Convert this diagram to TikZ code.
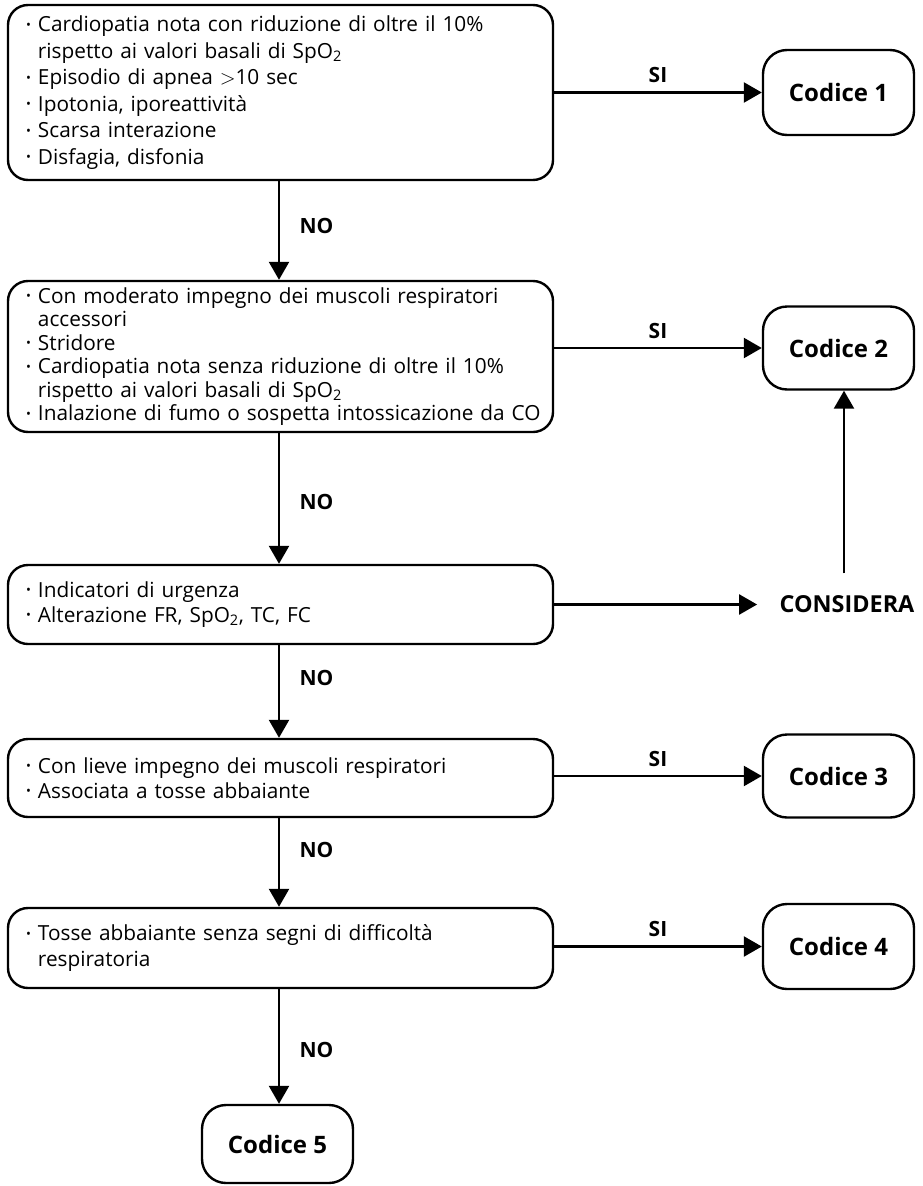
\documentclass[tikz,border=0pt]{standalone}
\usepackage{fontspec}
\setmainfont{Open Sans}
\usetikzlibrary{arrows.meta}
% list lines: a bullet line and a continuation line, never wrapped
\newcommand\bul{\makebox[12pt][l]{\raisebox{0.22ex}{\fontsize{13}{13}\selectfont\textbullet}}}
\newcommand\li[1]{\mbox{\bul#1}}
\newcommand\lc[1]{\mbox{\hspace*{12pt}#1}}
\begin{document}
\begin{tikzpicture}[x=1pt,y=-1pt,
  line width=2.4pt,
  arr/.style={-{Triangle[length=18pt,width=20pt]}},
  qbox/.style={draw, rounded corners=20pt, minimum width=545pt, inner xsep=18pt,
    inner ysep=0pt, text width=509pt, align=left,
    font=\fontsize{20.8}{25}\selectfont},
  cbox/.style={draw, rounded corners=24pt, minimum width=151pt,
    font=\bfseries\fontsize{24}{26}\selectfont},
  lbl/.style={font=\bfseries\fontsize{21}{24}\selectfont}]
\useasboundingbox (0,0) rectangle (922,1186);

% question boxes
\node[qbox, minimum height=175pt, font=\fontsize{20.8}{26.5}\selectfont] (b1) at (280.5,92.5) {%
  \li{Cardiopatia nota con riduzione di oltre il 10\%}\\
  \lc{rispetto ai valori basali di SpO\textsubscript{2}}\\
  \li{Episodio di apnea $>$10 sec}\\
  \li{Ipotonia, iporeattività}\\
  \li{Scarsa interazione}\\
  \li{Disfagia, disfonia}};
\node[qbox, minimum height=151pt, font=\fontsize{20.8}{23.5}\selectfont] (b2) at (280.5,356.5) {%
  \li{Con moderato impegno dei muscoli respiratori}\\
  \lc{accessori}\\
  \li{Stridore}\\
  \li{Cardiopatia nota senza riduzione di oltre il 10\%}\\
  \lc{rispetto ai valori basali di SpO\textsubscript{2}}\\
  \li{Inalazione di fumo o sospetta intossicazione da CO}};
\node[qbox, minimum height=79pt] (b3) at (280.5,604.5) {%
  \li{Indicatori di urgenza}\\
  \li{Alterazione FR, SpO\textsubscript{2}, TC, FC}};
\node[qbox, minimum height=78pt] (b4) at (280.5,778) {%
  \li{Con lieve impegno dei muscoli respiratori}\\
  \li{Associata a tosse abbaiante}};
\node[qbox, minimum height=80pt, font=\fontsize{20.8}{26}\selectfont] (b5) at (280.5,948) {%
  \li{Tosse abbaiante senza segni di difficoltà}\\
  \lc{respiratoria}};

% outcome boxes
\node[cbox, minimum height=85pt] (c1) at (838.5,92.5) {Codice 1};
\node[cbox, minimum height=83pt] (c2) at (838.5,348) {Codice 2};
\node[cbox, minimum height=83pt] (c3) at (838.5,776) {Codice 3};
\node[cbox, minimum height=85pt] (c4) at (838.5,946.5) {Codice 4};
\node[cbox, minimum height=78pt] (c5) at (277.5,1144) {Codice 5};
\node[font=\bfseries\fontsize{23.4}{26}\selectfont] (cons) at (847,604.5) {CONSIDERA};

% "SI" branches
\draw[arr] (b1.east |- c1) -- node[lbl, midway, above=5pt] {SI} (c1.west);
\draw[arr] (b2.east |- c2) -- node[lbl, midway, above=5pt] {SI} (c2.west);
\draw[arr] (b4.east |- c3) -- node[lbl, midway, above=5pt] {SI} (c3.west);
\draw[arr] (b5.east |- c4) -- node[lbl, midway, above=5pt] {SI} (c4.west);
\draw[arr] (b3.east) -- ([xshift=-18pt]cons.west);
\draw[arr] ([xshift=-3pt,yshift=18pt]cons.north) -- ([xshift=-3pt]cons.north |- c2.south);

% "NO" branches
\draw[arr] ([xshift=-1.5pt]b1.south) -- node[lbl, pos=0.45, right=16pt] {NO} ([xshift=-1.5pt]b2.north);
\draw[arr] ([xshift=-1.5pt]b2.south) -- node[lbl, pos=0.53, right=16pt] {NO} ([xshift=-1.5pt]b3.north);
\draw[arr] ([xshift=-1.5pt]b3.south) -- node[lbl, pos=0.35, right=16pt] {NO} ([xshift=-1.5pt]b4.north);
\draw[arr] ([xshift=-1.5pt]b4.south) -- node[lbl, pos=0.36, right=16pt] {NO} ([xshift=-1.5pt]b5.north);
\draw[arr] ([xshift=-1.5pt]b5.south) -- node[lbl, pos=0.53, right=16pt] {NO} ([xshift=-1.5pt]b5.south |- c5.north);
\end{tikzpicture}
\end{document}
